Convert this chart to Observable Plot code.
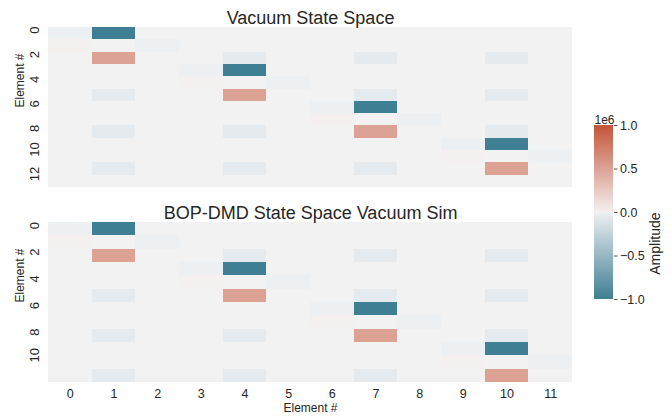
<!DOCTYPE html>
<html>
<head>
<meta charset="utf-8">
<script src="https://cdn.jsdelivr.net/npm/d3@7"></script>
<script src="https://cdn.jsdelivr.net/npm/@observablehq/plot@0.6"></script>
<style>
  html, body { margin: 0; padding: 0; background: #ffffff; }
  #figure { position: relative; width: 672px; height: 418px; background: #ffffff; overflow: hidden; }
  #figure > div, #figure > svg { position: absolute; }
</style>
</head>
<body>
<div id="figure"></div>
<script>
// State-space matrices, amplitude values (units of 1e6 are applied below)
const vacuumStateSpace = [
  [-0.01, -1.00,  0,     0,     0,     0,     0,     0,     0,     0,     0,     0    ],
  [ 0.006, 0,    -0.012, 0,     0,     0,     0,     0,     0,     0,     0,     0    ],
  [ 0,     0.50,  0,     0,    -0.06,  0,     0,    -0.06,  0,     0,    -0.06,  0    ],
  [ 0,     0,     0,    -0.01, -1.00,  0,     0,     0,     0,     0,     0,     0    ],
  [ 0,     0,     0,     0.006, 0,    -0.012, 0,     0,     0,     0,     0,     0    ],
  [ 0,    -0.06,  0,     0,     0.50,  0,     0,    -0.06,  0,     0,    -0.06,  0    ],
  [ 0,     0,     0,     0,     0,     0,    -0.01, -1.00,  0,     0,     0,     0    ],
  [ 0,     0,     0,     0,     0,     0,     0.006, 0,    -0.012, 0,     0,     0    ],
  [ 0,    -0.06,  0,     0,    -0.06,  0,     0,     0.50,  0,     0,    -0.06,  0    ],
  [ 0,     0,     0,     0,     0,     0,     0,     0,     0,    -0.01, -1.00,  0    ],
  [ 0,     0,     0,     0,     0,     0,     0,     0,     0,     0.006, 0,    -0.012],
  [ 0,    -0.06,  0,     0,    -0.06,  0,     0,    -0.06,  0,     0,     0.50,  0    ],
  [ 0,     0,     0,     0,     0,     0,     0,     0,     0,     0,     0,     0    ]
];

const bopDmdStateSpace = [
  [-0.01, -1.00,  0,     0,     0,     0,     0,     0,     0,     0,     0,     0    ],
  [ 0.006, 0,    -0.012, 0,     0,     0,     0,     0,     0,     0,     0,     0    ],
  [ 0,     0.50,  0,     0,    -0.06,  0,     0,    -0.06,  0,     0,    -0.06,  0    ],
  [ 0,     0,     0,    -0.01, -1.00,  0,     0,     0,     0,     0,     0,     0    ],
  [ 0,     0,     0,     0.006, 0,    -0.012, 0,     0,     0,     0,     0,     0    ],
  [ 0,    -0.06,  0,     0,     0.50,  0,     0,    -0.06,  0,     0,    -0.06,  0    ],
  [ 0,     0,     0,     0,     0,     0,    -0.01, -1.00,  0,     0,     0,     0    ],
  [ 0,     0,     0,     0,     0,     0,     0.006, 0,    -0.012, 0,     0,     0    ],
  [ 0,    -0.06,  0,     0,    -0.06,  0,     0,     0.50,  0,     0,    -0.06,  0    ],
  [ 0,     0,     0,     0,     0,     0,     0,     0,     0,    -0.01, -1.00,  0    ],
  [ 0,     0,     0,     0,     0,     0,     0,     0,     0,     0.006, 0,    -0.012],
  [ 0,    -0.06,  0,     0,    -0.06,  0,     0,    -0.06,  0,     0,     0.50,  0    ]
];

const amplitudeScale = 1e6;
const columnTicks = [0, 1, 2, 3, 4, 5, 6, 7, 8, 9, 10, 11];
const vacuumRowTicks = [0, 2, 4, 6, 8, 10, 12];
const bopDmdRowTicks = [0, 2, 4, 6, 8, 10];
const colorbarTicks = [-1.0, -0.5, 0.0, 0.5, 1.0];

const titles = ["Vacuum State Space", "BOP-DMD State Space Vacuum Sim"];
const axisLabel = "Element #";
const colorbarLabel = "Amplitude";

// Diverging palette: teal (negative) through light grey to terracotta (positive)
const colorOptions = {
  type: "linear",
  domain: [-1e6, -7.8e3, 0, 7.8e3, 1e6],
  range: ["#3f7f93", "#edf0f2", "#f2f2f2", "#f4efee", "#c3553a"],
  interpolate: "rgb",
  clamp: true
};

const textColor = "#262626";
const fontFamily = "'Liberation Sans', Arial, Helvetica, sans-serif";

function toCells(matrix) {
  const cells = [];
  matrix.forEach((row, r) => row.forEach((v, c) => cells.push({row: r, col: c, value: v * amplitudeScale})));
  return cells;
}

function heatmap(matrix, title, rowTicks, showX, height, marginBottom) {
  const rows = d3.range(matrix.length);
  const marks = [
    Plot.cell(toCells(matrix), {x: "col", y: "row", fill: "value", inset: 0, shapeRendering: "crispEdges"}),
    Plot.text([title], {frameAnchor: "top", lineAnchor: "bottom", dy: -4, fontSize: 18, fill: textColor}),
    Plot.text(rowTicks, {y: d => d, text: d => String(d), frameAnchor: "left", dx: -13.5, rotate: -90, fontSize: 13, fill: textColor}),
    Plot.text([axisLabel], {frameAnchor: "left", dx: -28, rotate: -90, fontSize: 12, fill: textColor})
  ];
  if (showX) {
    marks.push(
      Plot.axisX(columnTicks, {tickSize: 0, tickPadding: 6.5, fontSize: 12.5, fill: textColor, label: null}),
      Plot.text([axisLabel], {frameAnchor: "bottom", dy: 29.5, fontSize: 12, fill: textColor})
    );
  }
  return Plot.plot({
    width: 600,
    height,
    marginLeft: 48,
    marginRight: 28,
    marginTop: 27,
    marginBottom,
    style: {fontFamily, color: textColor, background: "transparent", overflow: "visible"},
    x: {type: "band", domain: columnTicks, padding: 0, round: false, axis: null},
    y: {type: "band", domain: rows, padding: 0, round: false, axis: null},
    color: colorOptions,
    marks
  });
}

const fig = document.getElementById("figure");

const vacuumChart = heatmap(vacuumStateSpace, titles[0], vacuumRowTicks, false, 195, 8);
vacuumChart.style.left = "0px"; vacuumChart.style.top = "0px";
fig.appendChild(vacuumChart);

const bopDmdChart = heatmap(bopDmdStateSpace, titles[1], bopDmdRowTicks, true, 223, 36);
bopDmdChart.style.left = "0px"; bopDmdChart.style.top = "195px";
fig.appendChild(bopDmdChart);

// Colorbar: a fine ramp of overlapping bands through the same colour scale
const step = 0.01;
const ramp = d3.range(-1, 1, step).map(v => ({
  y1: v * amplitudeScale,
  y2: Math.min(1, v + step * 2) * amplitudeScale,
  mid: (v + step / 2) * amplitudeScale
}));
const colorbar = Plot.plot({
  width: 100,
  height: 200,
  marginLeft: 24,
  marginRight: 57,
  marginTop: 15,
  marginBottom: 11,
  style: {fontFamily, color: textColor, background: "transparent", overflow: "visible"},
  x: {domain: [0, 1], axis: null},
  y: {domain: [-amplitudeScale, amplitudeScale], axis: null},
  color: colorOptions,
  marks: [
    Plot.rect(ramp, {x1: 0, x2: 1, y1: "y1", y2: "y2", fill: "mid", inset: 0}),
    Plot.axisY(colorbarTicks.map(t => t * amplitudeScale), {
      anchor: "right", tickSize: 3.5, tickPadding: 3, fontSize: 12.5, stroke: "#555555", fill: textColor, label: null,
      tickFormat: d => (d / amplitudeScale).toFixed(1).replace("-", "\u2212")
    }),
    Plot.text(["1e6"], {frameAnchor: "top-left", textAnchor: "start", lineAnchor: "bottom", dy: -2, fontSize: 12, fill: textColor}),
    Plot.text([colorbarLabel], {frameAnchor: "right", dx: 42, rotate: -90, fontSize: 14, fill: textColor})
  ]
});
colorbar.style.left = "570px"; colorbar.style.top = "110px";
fig.appendChild(colorbar);
</script>
</body>
</html>
